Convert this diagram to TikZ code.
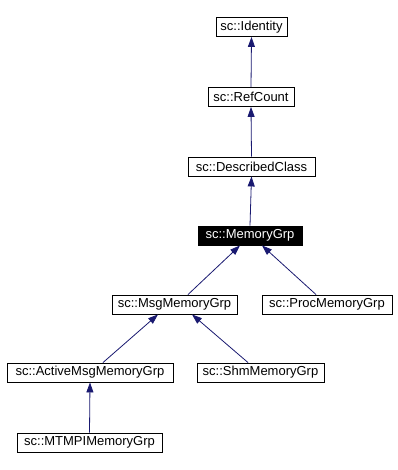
\documentclass[tikz,border=0pt]{standalone}
\usepackage{fontspec}
\setmainfont{Liberation Sans}
\usetikzlibrary{arrows.meta}
\definecolor{edgeblue}{HTML}{191970}
\begin{document}
\begin{tikzpicture}[x=1pt,y=-1pt,
  cls/.style={draw=black,line width=0.9pt,fill=white,minimum height=19pt,inner sep=0pt,font=\fontsize{13}{15}\selectfont},
  cur/.style={cls,fill=black,text=white},
  edge/.style={draw=edgeblue,line width=0.8pt,{Triangle[length=10pt,width=7pt]}-}]
\useasboundingbox (0,0) rectangle (397,470);
\node[cls,minimum width=71pt] (identity) at (251.5,27) {sc::Identity};
\node[cls,minimum width=86pt] (refcount) at (251,97) {sc::RefCount};
\node[cls,minimum width=127pt] (described) at (251.5,166.5) {sc::DescribedClass};
\node[cur,minimum width=104pt] (memgrp) at (250,235.5) {sc::MemoryGrp};
\node[cls,minimum width=125pt] (msg) at (174.5,304.5) {sc::MsgMemoryGrp};
\node[cls,minimum width=130pt] (proc) at (327,304.5) {sc::ProcMemoryGrp};
\node[cls,minimum width=166pt] (active) at (90,372.5) {sc::ActiveMsgMemoryGrp};
\node[cls,minimum width=127pt] (shm) at (260.5,372.5) {sc::ShmMemoryGrp};
\node[cls,minimum width=145pt] (mtmpi) at (89.5,442.5) {sc::MTMPIMemoryGrp};
\draw[edge] (identity.south) -- (refcount.north);
\draw[edge] (refcount.south) -- (described.north);
\draw[edge] (described.south) -- (memgrp.north);
\draw[edge] ([xshift=-10pt]memgrp.south) -- ([xshift=13.5pt]msg.north);
\draw[edge] ([xshift=12pt]memgrp.south) -- ([xshift=-11pt]proc.north);
\draw[edge] ([xshift=-16.5pt]msg.south) -- ([xshift=13pt]active.north);
\draw[edge] ([xshift=17.5pt]msg.south) -- ([xshift=-12.5pt]shm.north);
\draw[edge] (active.south) -- (mtmpi.north);
\end{tikzpicture}
\end{document}
